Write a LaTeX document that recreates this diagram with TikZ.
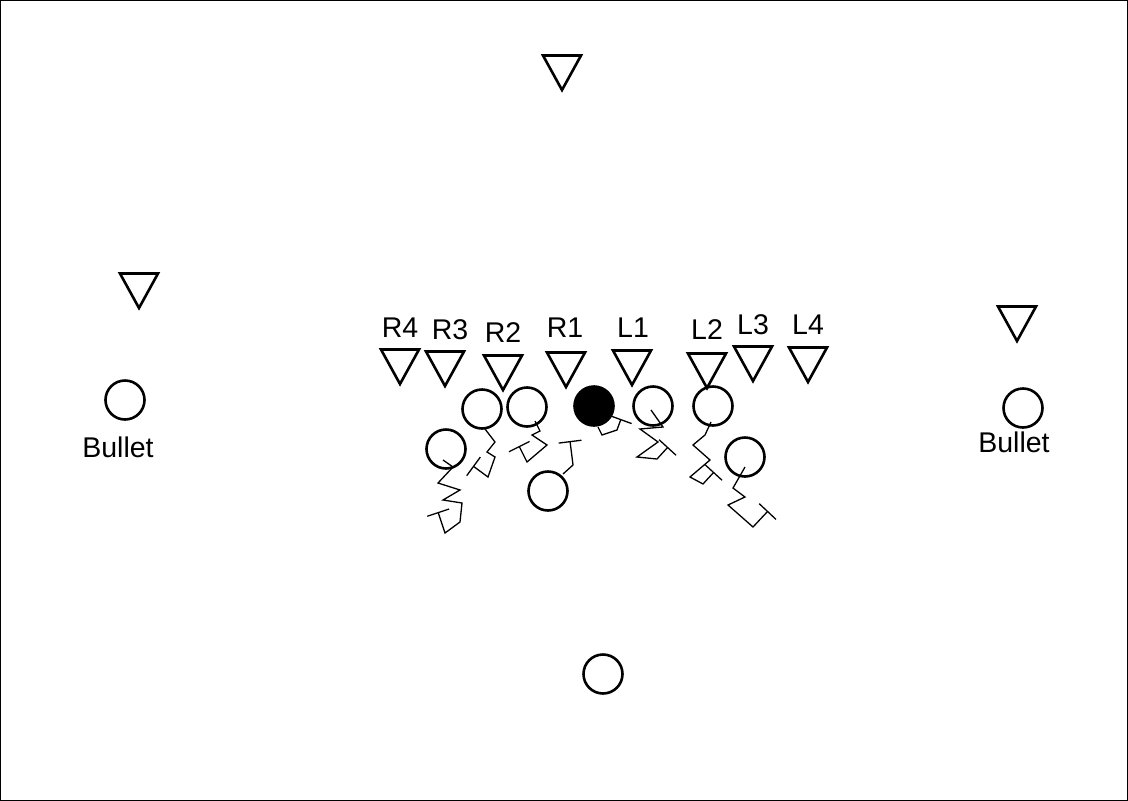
\documentclass[tikz,border=0pt]{standalone}
\usepackage{fontspec}
\setmainfont{Liberation Sans}
\usetikzlibrary{arrows.meta}

\begin{document}
\begin{tikzpicture}[
  x=1pt, y=-1pt,
  font=\fontsize{28.5}{31}\selectfont,
  player/.style={circle,draw,line width=2.6pt,minimum size=39pt,inner sep=0pt},
  carrier/.style={player,fill=black},
  tag/.style={inner sep=0pt},
  route/.style={line width=1.3pt,line join=miter},
  block/.style={route,-{Bar[width=23pt,line width=1.3pt]}},
  defender/.pic={\draw[line width=2.6pt] (-19,-17.5) -- (19,-17.5) -- (0,17) -- cycle;}
]
\useasboundingbox (0,0) rectangle (1128,801);
\draw[line width=1pt] (0.5,0.5) rectangle (1127.5,800.5);

% defense
\pic (deep)  at (562,73)  {defender};
\pic (cornl) at (139,291) {defender};
\pic (cornr) at (1017,324) {defender};
\pic (r4) at (400,367) {defender};
\pic (r3) at (445,369) {defender};
\pic (r2) at (503,373) {defender};
\pic (r1) at (566,370) {defender};
\pic (l1) at (632,368) {defender};
\pic (l2) at (707,371) {defender};
\pic (l3) at (753,364) {defender};
\pic (l4) at (808,365) {defender};

\node[tag] (tr4) at (400,328) {R4};
\node[tag] (tr3) at (450,330) {R3};
\node[tag] (tr2) at (503,333) {R2};
\node[tag] (tr1) at (565,328) {R1};
\node[tag] (tl1) at (633,328) {L1};
\node[tag] (tl2) at (707,330) {L2};
\node[tag] (tl3) at (753,325) {L3};
\node[tag] (tl4) at (808,325) {L4};

% offense
\node[player] (bl) at (125,400) {};
\node[tag] (tbl) at (118,447) {Bullet};
\node[player] (br) at (1023,408) {};
\node[tag] (tbr) at (1014,442) {Bullet};

\node[player] (te) at (446,449) {};
\node[player] (lt) at (482,409) {};
\node[player] (lg) at (527,407) {};
\node[carrier] (ctr) at (594,406) {};
\node[player] (rg) at (653,406) {};
\node[player] (rt) at (713,406) {};
\node[player] (wing) at (745,457) {};
\node[player] (back) at (548,491) {};
\node[player] (qb) at (603,674) {};

% blocking routes
\draw[block] (443,460) -- (453,467) -- (438,483) -- (460,490) -- (443,500) -- (462,503) -- (460,522) -- (445,533) -- (438,512);
\draw[block] (485,429) -- (495,442) -- (487,452) -- (495,457) -- (488,477) -- (473,466);
\draw[block] (535,421) -- (540,431) -- (532,435) -- (547,445) -- (527,462) -- (519,446);
\draw[block] (563,474) -- (573,465) -- (570,441);
\draw[block] (598,427) -- (602,435) -- (617,430) -- (621,419);
\draw[block] (651,410) -- (663,427) -- (640,429) -- (658,442) -- (637,457) -- (657,459) -- (668,447);
\draw[block] (711,422) -- (705,435) -- (693,445) -- (710,460) -- (690,477) -- (703,484) -- (714,472);
\draw[block] (745,467) -- (733,488) -- (745,497) -- (728,505) -- (753,527) -- (768,511);
\end{tikzpicture}
\end{document}
